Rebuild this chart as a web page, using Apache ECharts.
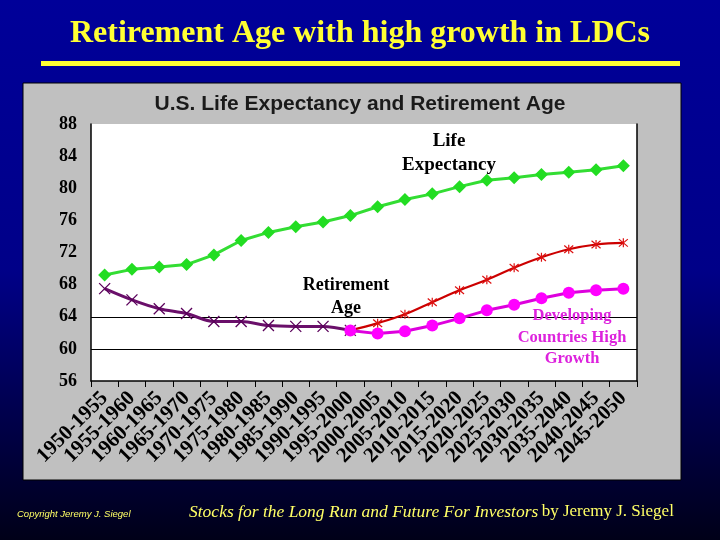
<!DOCTYPE html>
<html>
<head>
<meta charset="utf-8">
<style>
  html, body { margin: 0; padding: 0; background: #000066; }
  #chart { width: 720px; height: 540px; }
</style>
<script src="https://cdn.jsdelivr.net/npm/echarts@6/dist/echarts.min.js"></script>
</head>
<body>
<div id="chart"></div>
<script>
// 数据：五年区间
const periods = ['1950-1955', '1955-1960', '1960-1965', '1965-1970', '1970-1975',
    '1975-1980', '1980-1985', '1985-1990', '1990-1995', '1995-2000',
    '2000-2005', '2005-2010', '2010-2015', '2015-2020', '2020-2025',
    '2025-2030', '2030-2035', '2035-2040', '2040-2045', '2045-2050'];

const lifeExpectancy = [69.2, 69.9, 70.2, 70.5, 71.7, 73.5, 74.5, 75.2, 75.8, 76.6,
    77.7, 78.6, 79.3, 80.2, 81.0, 81.3, 81.7, 82.0, 82.3, 82.8];

const retirementPast = [67.5, 66.1, 65.0, 64.4, 63.4, 63.4, 62.9, 62.8, 62.8, 62.3,
    '-', '-', '-', '-', '-', '-', '-', '-', '-', '-'];

const retirementUS = ['-', '-', '-', '-', '-', '-', '-', '-', '-', 62.3,
    63.2, 64.3, 65.8, 67.3, 68.6, 70.1, 71.4, 72.4, 73.0, 73.2];

const retirementLDC = ['-', '-', '-', '-', '-', '-', '-', '-', '-', 62.3,
    61.9, 62.2, 62.9, 63.8, 64.8, 65.5, 66.3, 67.0, 67.3, 67.5];

const yTicks = { min: 56, max: 88, step: 4 };

const serif = '"Liberation Serif", "DejaVu Serif", serif';
const sans = '"Liberation Sans", Arial, sans-serif';

const xMark = 'path://M0,0L10,10M10,0L0,10';
const starMark = 'path://M0,0L10,10M10,0L0,10M5,-1L5,11';

const chart = echarts.init(document.getElementById('chart'));

const option = {
    backgroundColor: {
        type: 'linear', x: 0, y: 0, x2: 0, y2: 1,
        colorStops: [
            { offset: 0, color: '#000099' },
            { offset: 0.5, color: '#000088' },
            { offset: 1, color: '#000018' }
        ]
    },
    animation: false,
    title: [
        {
            text: 'Retirement Age with high growth in LDCs',
            left: 'center',
            top: 13,
            textStyle: { color: '#ffff33', fontSize: 32, fontWeight: 'bold', fontFamily: serif }
        },
        {
            text: 'U.S. Life Expectancy and Retirement Age',
            left: 'center',
            top: 89,
            textStyle: { color: '#1a1a1a', fontSize: 21, fontWeight: 'bold', fontFamily: sans }
        }
    ],
    grid: {
        left: 91, top: 124, width: 546, height: 257,
        show: true,
        backgroundColor: '#ffffff',
        borderWidth: 0
    },
    xAxis: {
        type: 'category',
        data: periods,
        boundaryGap: true,
        axisLine: { lineStyle: { color: '#000', width: 1.5 } },
        axisTick: { show: true, length: 6, lineStyle: { color: '#000' } },
        axisLabel: {
            interval: 0,
            rotate: 45,
            margin: 14,
            color: '#000',
            fontSize: 21,
            fontWeight: 'bold',
            fontFamily: serif
        }
    },
    yAxis: [
        {
            type: 'value',
            min: yTicks.min, max: yTicks.max, interval: yTicks.step,
            axisLine: { show: true, lineStyle: { color: '#000', width: 1.5 } },
            axisTick: { show: false },
            axisLabel: { margin: 14, color: '#000', fontSize: 18, fontWeight: 'bold', fontFamily: serif },
            splitLine: {
                show: true,
                lineStyle: {
                    color: ['rgba(0,0,0,0)', '#000', '#000', 'rgba(0,0,0,0)', 'rgba(0,0,0,0)',
                        'rgba(0,0,0,0)', 'rgba(0,0,0,0)', 'rgba(0,0,0,0)', 'rgba(0,0,0,0)'],
                    width: 1.2
                }
            }
        },
        {
            type: 'value', position: 'right',
            min: yTicks.min, max: yTicks.max, interval: yTicks.step,
            axisLine: { show: true, lineStyle: { color: '#000', width: 1.5 } },
            axisTick: { show: false },
            axisLabel: { show: false },
            splitLine: { show: false }
        }
    ],
    graphic: [
        {
            type: 'rect', z: -100,
            shape: { x: 41, y: 61, width: 639, height: 5 },
            style: { fill: '#ffff33' }
        },
        {
            type: 'rect', z: -100,
            shape: { x: 23, y: 83, width: 658, height: 397 },
            style: { fill: '#c0c0c0', stroke: '#000', lineWidth: 1 }
        },
        {
            type: 'text', z: 100, x: 449, y: 129,
            style: {
                text: 'Life\nExpectancy', align: 'center', verticalAlign: 'top',
                fill: '#000', font: 'bold 19px ' + serif, lineHeight: 24
            }
        },
        {
            type: 'text', z: 100, x: 346, y: 274,
            style: {
                text: 'Retirement\nAge', align: 'center', verticalAlign: 'top',
                fill: '#000', font: 'bold 18px ' + serif, lineHeight: 23
            }
        },
        {
            type: 'text', z: 100, x: 572, y: 305,
            style: {
                text: 'Developing\nCountries High\nGrowth', align: 'center', verticalAlign: 'top',
                fill: '#dd22dd', font: 'bold 16.5px ' + serif, lineHeight: 21.5
            }
        },
        {
            type: 'text', x: 17, y: 509,
            style: {
                text: 'Copyright Jeremy J. Siegel',
                fill: '#ffff66', font: 'italic 9.5px ' + sans
            }
        },
        {
            type: 'text', x: 189, y: 503,
            style: {
                text: '{i|Stocks for the Long Run and Future For Investors} {n|by Jeremy J. Siegel}',
                rich: {
                    i: { fill: '#ffff66', font: 'italic 17.5px ' + serif },
                    n: { fill: '#ffff66', font: '17px ' + serif }
                }
            }
        }
    ],
    series: [
        {
            name: 'Life Expectancy',
            type: 'line',
            data: lifeExpectancy,
            symbol: 'diamond',
            symbolSize: 13,
            lineStyle: { color: '#33dd33', width: 3 },
            itemStyle: { color: '#22dd22' },
            z: 3
        },
        {
            name: 'Retirement Age',
            type: 'line',
            data: retirementPast,
            smooth: 0.3,
            symbol: xMark,
            symbolSize: 11,
            lineStyle: { color: '#6a0f6a', width: 3 },
            itemStyle: { color: 'rgba(0,0,0,0)', borderColor: '#5a005a', borderWidth: 1.3 },
            z: 4
        },
        {
            name: 'US Retirement Age',
            type: 'line',
            data: retirementUS,
            smooth: 0.4,
            symbol: starMark,
            symbolSize: 9,
            lineStyle: { color: '#cc0000', width: 2.2 },
            itemStyle: { color: 'rgba(0,0,0,0)', borderColor: '#dd1111', borderWidth: 1.2 },
            z: 5
        },
        {
            name: 'Developing Countries High Growth',
            type: 'line',
            data: retirementLDC,
            symbol: 'circle',
            symbolSize: 12,
            lineStyle: { color: '#dd00dd', width: 3 },
            itemStyle: { color: '#ff00ff' },
            z: 6
        }
    ]
};

chart.setOption(option);
</script>
</body>
</html>
